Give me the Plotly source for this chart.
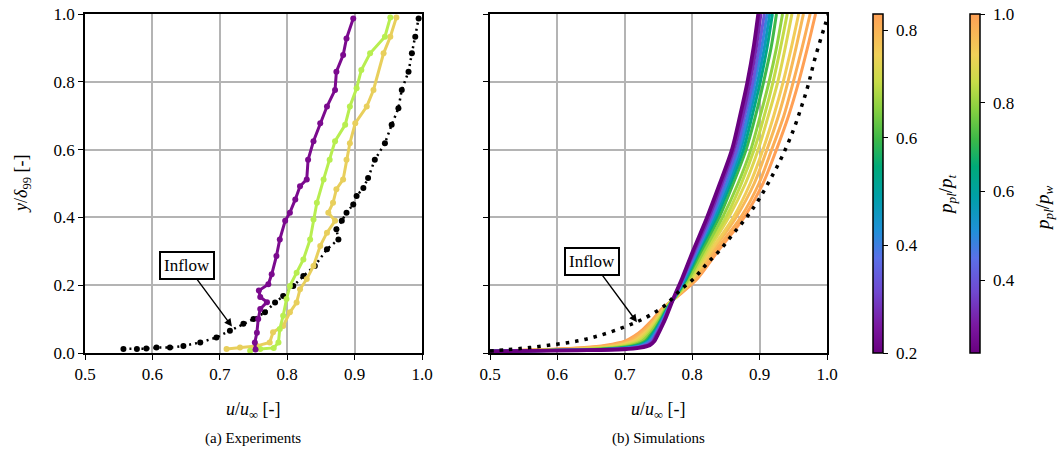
import plotly.graph_objects as go
from plotly.colors import sample_colorscale

# ---------------- data ----------------
# (a) Experiments
exp_inflow_u = [0.557, 0.577, 0.591, 0.606, 0.626, 0.646, 0.671, 0.695, 0.715, 0.735, 0.750, 0.767,
                0.782, 0.794, 0.809, 0.824, 0.841, 0.859, 0.876, 0.873, 0.881, 0.888, 0.898, 0.903,
                0.913, 0.920, 0.930, 0.945, 0.955, 0.965, 0.970, 0.980, 0.985, 0.990, 0.995]
exp_inflow_y = [0.012, 0.012, 0.013, 0.016, 0.016, 0.021, 0.031, 0.046, 0.066, 0.086, 0.100, 0.120,
                0.149, 0.168, 0.198, 0.227, 0.257, 0.306, 0.335, 0.365, 0.390, 0.414, 0.438, 0.463,
                0.487, 0.516, 0.570, 0.619, 0.673, 0.722, 0.776, 0.830, 0.884, 0.933, 0.987]

exp_purple_u = [0.753, 0.752, 0.755, 0.757, 0.760, 0.770, 0.760, 0.758, 0.772, 0.777, 0.784, 0.789,
                0.797, 0.804, 0.812, 0.819, 0.829, 0.831, 0.839, 0.849, 0.859, 0.871, 0.873, 0.883,
                0.888, 0.898]
exp_purple_y = [0.010, 0.031, 0.060, 0.100, 0.130, 0.150, 0.165, 0.184, 0.203, 0.232, 0.286, 0.335,
                0.390, 0.414, 0.453, 0.492, 0.512, 0.570, 0.625, 0.678, 0.727, 0.776, 0.830, 0.879,
                0.928, 0.987]

exp_green_u = [0.745, 0.760, 0.780, 0.787, 0.789, 0.794, 0.799, 0.804, 0.814, 0.824, 0.834, 0.839,
               0.844, 0.854, 0.863, 0.871, 0.886, 0.893, 0.903, 0.910, 0.923, 0.945, 0.953]
exp_green_y = [0.007, 0.012, 0.015, 0.031, 0.071, 0.110, 0.159, 0.198, 0.237, 0.276, 0.335, 0.394,
               0.443, 0.512, 0.570, 0.625, 0.673, 0.727, 0.781, 0.835, 0.884, 0.933, 0.990]

exp_yellow_u = [0.710, 0.730, 0.755, 0.774, 0.779, 0.794, 0.804, 0.814, 0.819, 0.829, 0.839, 0.849,
                0.859, 0.871, 0.861, 0.868, 0.873, 0.883, 0.888, 0.893, 0.901, 0.918, 0.928, 0.943,
                0.953, 0.962]
exp_yellow_y = [0.012, 0.016, 0.021, 0.031, 0.061, 0.080, 0.120, 0.149, 0.188, 0.218, 0.257, 0.316,
                0.355, 0.390, 0.414, 0.443, 0.483, 0.512, 0.570, 0.619, 0.678, 0.727, 0.776, 0.884,
                0.933, 0.990]

# (b) Simulations
sim_inflow_u = [0.500, 0.525, 0.559, 0.599, 0.634, 0.663, 0.693, 0.718, 0.737, 0.760, 0.782, 0.802,
                0.822, 0.841, 0.861, 0.881, 0.898, 0.915, 0.933, 0.950, 0.962, 0.972, 0.982, 0.997, 1.002]
sim_inflow_y = [0.006, 0.010, 0.016, 0.026, 0.037, 0.052, 0.072, 0.092, 0.111, 0.141, 0.185, 0.219,
                0.264, 0.303, 0.352, 0.401, 0.450, 0.509, 0.578, 0.657, 0.726, 0.790, 0.868, 0.967, 1.0]

sim_y = [0.005, 0.008, 0.011, 0.016, 0.023, 0.035, 0.05, 0.07, 0.1, 0.13,
         0.17, 0.22, 0.3, 0.4, 0.5, 0.6, 0.7, 0.8, 0.9, 1.0]
sim_p = [0.20, 0.27, 0.34, 0.41, 0.47, 0.53, 0.60, 0.66, 0.70, 0.73, 0.76, 0.79, 0.81, 0.83]
sim_u = [
    [.500, .630, .698, .723, .737, .744, .748, .753, .760, .766, .774, .785, .801, .822, .841, .859, .871, .882, .891, .898],
    [.500, .626, .693, .719, .734, .742, .746, .752, .759, .765, .774, .786, .803, .825, .844, .862, .875, .886, .895, .902],
    [.500, .621, .687, .715, .730, .740, .745, .750, .758, .765, .775, .787, .805, .828, .847, .866, .878, .890, .899, .907],
    [.500, .617, .682, .711, .727, .737, .743, .749, .757, .764, .775, .788, .807, .830, .851, .869, .882, .893, .903, .911],
    [.500, .613, .676, .706, .724, .735, .741, .748, .756, .764, .775, .790, .808, .833, .854, .872, .885, .897, .907, .915],
    [.500, .609, .671, .702, .721, .733, .739, .746, .755, .763, .776, .791, .810, .836, .857, .876, .889, .901, .911, .919],
    [.500, .603, .663, .696, .716, .730, .737, .745, .754, .762, .776, .792, .813, .840, .861, .880, .894, .906, .917, .925],
    [.500, .594, .653, .688, .710, .726, .734, .742, .752, .761, .777, .795, .817, .845, .868, .887, .901, .914, .925, .934],
    [.500, .587, .644, .681, .704, .722, .731, .740, .751, .760, .777, .797, .820, .850, .873, .892, .907, .920, .931, .941],
    [.500, .580, .634, .674, .699, .718, .728, .738, .749, .760, .778, .799, .823, .854, .879, .898, .913, .927, .938, .948],
    [.500, .570, .622, .665, .691, .713, .724, .735, .747, .758, .778, .801, .827, .861, .886, .905, .921, .935, .947, .958],
    [.500, .563, .613, .657, .686, .709, .721, .732, .746, .757, .779, .803, .830, .865, .892, .911, .928, .942, .954, .965],
    [.500, .553, .601, .648, .678, .704, .717, .730, .744, .756, .779, .806, .834, .872, .899, .918, .936, .950, .963, .975],
    [.500, .545, .590, .640, .672, .700, .714, .727, .742, .755, .780, .808, .838, .877, .905, .925, .943, .958, .971, .983],
]

x_ticks = [0.5, 0.6, 0.7, 0.8, 0.9, 1.0]
y_ticks = [0.0, 0.2, 0.4, 0.6, 0.8, 1.0]
cb1_range = [0.2, 0.83]
cb1_ticks = [0.2, 0.4, 0.6, 0.8]
cb2_range = [0.236, 1.0]
cb2_ticks = [0.4, 0.6, 0.8, 1.0]

# ---------------- style ----------------
cmap = [
    [0.00, "#690080"], [0.08, "#7a18a0"], [0.18, "#7048d0"], [0.28, "#5a70e8"],
    [0.36, "#2090d8"], [0.46, "#00a0a8"], [0.55, "#00aa78"], [0.63, "#3cb848"],
    [0.72, "#88d040"], [0.80, "#c8dc48"], [0.88, "#f0d058"], [1.00, "#ffa055"],
]
FONT = "Liberation Serif"
W, H = 1057, 451
NB = "\u00a0"

fig = go.Figure()

# left panel
fig.add_trace(go.Scatter(x=exp_inflow_u, y=exp_inflow_y, mode="lines+markers",
                         line=dict(color="black", width=2.5, dash="2px,4px"),
                         marker=dict(color="black", size=6), xaxis="x", yaxis="y", showlegend=False))
for uu, yy, col in [(exp_yellow_u, exp_yellow_y, "#e8cf5c"),
                    (exp_green_u, exp_green_y, "#b8ee50"),
                    (exp_purple_u, exp_purple_y, "#7b0a8e")]:
    fig.add_trace(go.Scatter(x=uu, y=yy, mode="lines+markers",
                             line=dict(color=col, width=3), marker=dict(color=col, size=6),
                             xaxis="x", yaxis="y", showlegend=False))

# right panel: high p first, purple on top
for p, uu in sorted(zip(sim_p, sim_u), key=lambda t: -t[0]):
    frac = (p - cb1_range[0]) / (cb1_range[1] - cb1_range[0])
    col = sample_colorscale(cmap, [min(max(frac, 0), 1)])[0]
    wdt = 3.8 if p == min(sim_p) else 3
    fig.add_trace(go.Scatter(x=uu, y=sim_y, mode="lines",
                             line=dict(color=col, width=wdt, shape="spline", smoothing=0.8),
                             xaxis="x2", yaxis="y2", showlegend=False))
fig.add_trace(go.Scatter(x=sim_inflow_u, y=sim_inflow_y, mode="lines",
                         line=dict(color="black", width=3.5, dash="3.5px,6px", shape="spline"),
                         xaxis="x2", yaxis="y2", showlegend=False))

# colorbars
ydom = [1 - 353 / H, 1 - 14 / H]
cb_common = dict(thickness=10, len=(353 - 14) / H, lenmode="fraction", y=(ydom[0] + ydom[1]) / 2,
                 yanchor="middle", xanchor="left", xpad=0, ypad=0, outlinewidth=1.5, outlinecolor="black",
                 ticks="outside", ticklen=5, tickwidth=1.3, tickcolor="black",
                 tickfont=dict(family=FONT, size=17, color="black"))
fig.add_trace(go.Scatter(x=[0.6], y=[-5], mode="markers", xaxis="x2", yaxis="y2", showlegend=False,
                         hoverinfo="skip",
                         marker=dict(color=[0.5], colorscale=cmap, cmin=cb1_range[0], cmax=cb1_range[1],
                                     showscale=True, opacity=0,
                                     colorbar=dict(x=873 / W, tickvals=cb1_ticks,
                                                   ticktext=[NB + f"{v:.1f}" for v in cb1_ticks], **cb_common))))
fig.add_trace(go.Scatter(x=[0.6], y=[-5], mode="markers", xaxis="x", yaxis="y", showlegend=False,
                         hoverinfo="skip",
                         marker=dict(color=[0.5], colorscale=cmap, cmin=cb2_range[0], cmax=cb2_range[1],
                                     showscale=True, opacity=0,
                                     colorbar=dict(x=970 / W, tickvals=cb2_ticks,
                                                   ticktext=[NB + f"{v:.1f}" for v in cb2_ticks], **cb_common))))

axis_common = dict(range=[0.5, 1.0], showgrid=True, gridcolor="#b4b4b4", gridwidth=1.5,
                   showline=True, linecolor="black", linewidth=1.5, mirror=True, automargin=False,
                   ticks="outside", ticklen=5, tickwidth=1.3, tickcolor="black", zeroline=False,
                   tickvals=x_ticks, ticktext=[f"{v:.1f}" for v in x_ticks],
                   tickfont=dict(family=FONT, size=17, color="black"))
yaxis_common = dict(axis_common)
yaxis_common.update(range=[0, 1.0], tickvals=y_ticks, ticktext=[f"{v:.1f}" for v in y_ticks])

fig.update_layout(
    width=W, height=H, margin=dict(l=0, r=0, t=0, b=0, autoexpand=False),
    paper_bgcolor="white", plot_bgcolor="white",
    xaxis=dict(domain=[85 / W, 422 / W], anchor="y", **axis_common),
    xaxis2=dict(domain=[490 / W, 827 / W], anchor="y2", **axis_common),
    yaxis=dict(domain=ydom, anchor="x", **yaxis_common),
    yaxis2=dict(domain=ydom, anchor="x2", showticklabels=False,
                **{k: v for k, v in yaxis_common.items()}),
)

def ann(text, x, y, size=16, angle=0):
    fig.add_annotation(text=text, x=x / W, y=1 - y / H, xref="paper", yref="paper",
                       showarrow=False, textangle=angle, xanchor="center", yanchor="middle",
                       font=dict(family=FONT, size=size, color="black"))

ann("<i>y</i>/<i>δ</i><sub>99</sub> [-]", 22, 184, 18, -90)
ann("<i>u</i>/<i>u</i><sub>∞</sub> [-]", 253, 410, 18)
ann("<i>u</i>/<i>u</i><sub>∞</sub> [-]", 658, 410, 18)
ann("(a) Experiments", 253, 438, 15)
ann("(b) Simulations", 658, 438, 15)
ann("<i>p</i><sub><i>pl</i></sub>/<i>p</i><sub><i>t</i></sub>", 947, 195, 19, -90)
ann("<i>p</i><sub><i>pl</i></sub>/<i>p</i><sub><i>w</i></sub>", 1044, 208, 19, -90)

for xr, yr, head_u, head_y in [("x", "y", 0.718, 0.078), ("x2", "y2", 0.718, 0.091)]:
    fig.add_annotation(text="Inflow", x=head_u, y=head_y, xref=xr, yref=yr,
                       ax=-45, ay=-61, showarrow=True, arrowhead=2, arrowsize=1.1, arrowwidth=1.4,
                       arrowcolor="black", bordercolor="black", borderwidth=2, borderpad=3,
                       bgcolor="white", font=dict(family=FONT, size=17, color="black"))

fig.write_html("out.html")
